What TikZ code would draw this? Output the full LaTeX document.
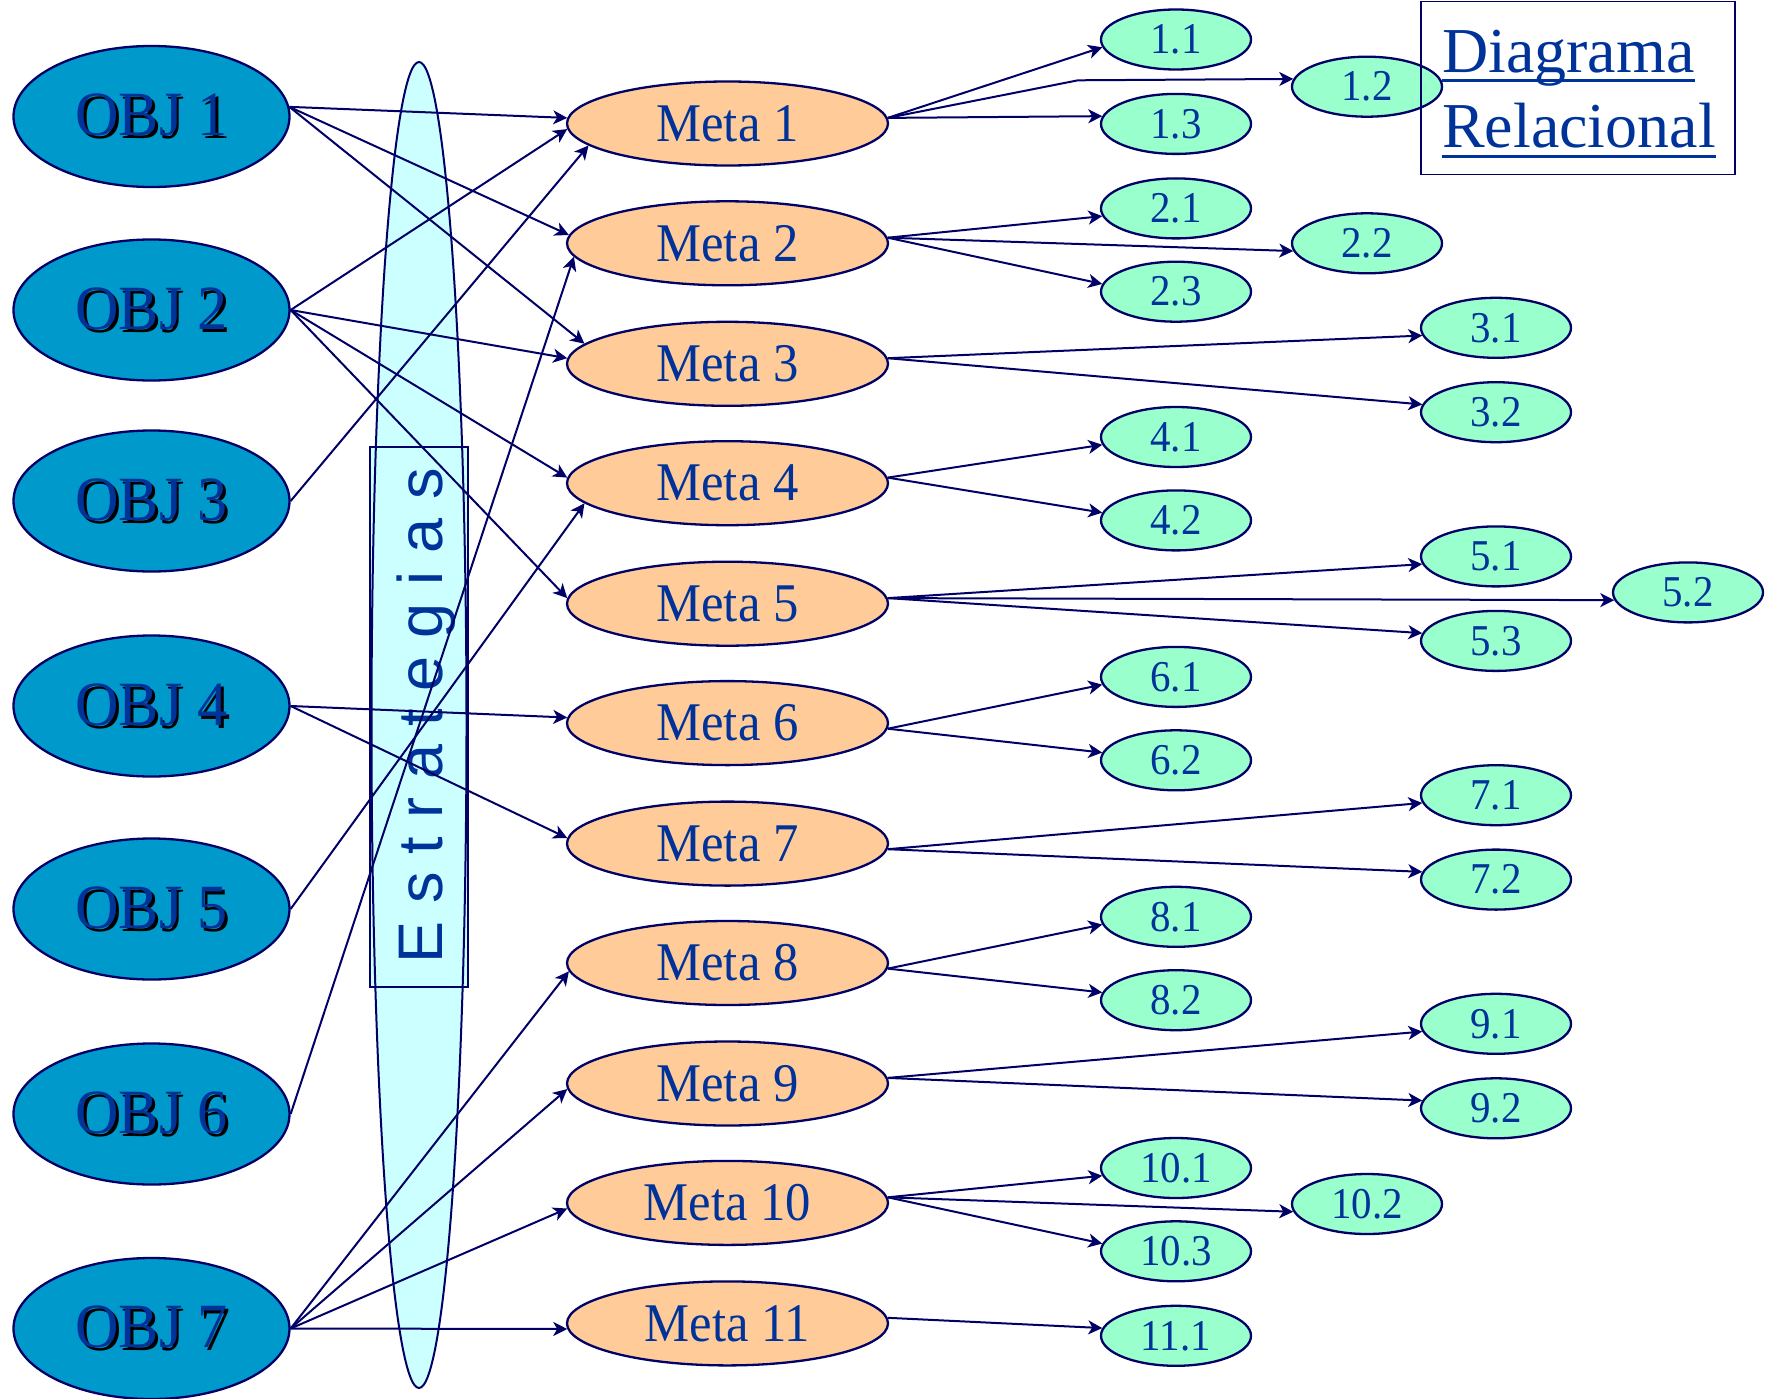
\documentclass[tikz,border=0pt]{standalone}
\usepackage{fontspec}
\usepackage{graphicx}
\setmainfont{Liberation Serif}
\newfontfamily\estfont{Liberation Sans}
\usetikzlibrary{shapes.geometric,arrows.meta}
\definecolor{navy}{HTML}{000066}
\definecolor{textblue}{HTML}{003399}
\definecolor{objfill}{HTML}{0099CC}
\definecolor{metafill}{HTML}{FFCC99}
\definecolor{subfill}{HTML}{99FFCC}
\definecolor{estfill}{HTML}{CCFFFF}
\newcommand\shtext[1]{\makebox[0pt][l]{\kern3pt\raisebox{-3pt}{\color{black}#1}}#1}
\newcommand\objlabel[1]{\scalebox{0.955}[1]{\shtext{#1}}}
\newcommand\metalabel[1]{\scalebox{0.93}[1]{#1}}
\newcommand\sublabel[1]{\scalebox{0.93}[1]{#1}}
\tikzset{
  objnode/.style={ellipse, draw=navy, line width=2.3pt, fill=objfill,
    minimum width=276pt, minimum height=141pt, inner sep=0pt,
    text=textblue, font=\fontsize{63}{63}\selectfont},
  metanode/.style={ellipse, draw=navy, line width=2.3pt, fill=metafill,
    minimum width=321pt, minimum height=84pt, inner sep=0pt,
    text=textblue, font=\fontsize{54.5}{54.5}\selectfont},
  subnode/.style={ellipse, draw=navy, line width=2.3pt, fill=subfill,
    minimum width=150pt, minimum height=60pt, inner sep=0pt,
    text=textblue, font=\fontsize{44}{44}\selectfont},
  link/.style={draw=navy, line width=2pt,
    -{Stealth[length=14pt,width=14pt,inset=4pt]}},
  titletext/.style={anchor=base west, inner sep=0pt, text=textblue,
    font=\fontsize{64}{64}\selectfont},
}
\begin{document}
\begin{tikzpicture}[x=1pt,y=-1pt]
\useasboundingbox (0,0) rectangle (1766,1399);
% Estrategias band
\fill[estfill] (370,447) rectangle (468,987);
\node[ellipse, draw=navy, line width=2pt, fill=estfill, minimum width=95pt,
  minimum height=1326pt, inner sep=0pt] (est) at (419,725) {};
\node[draw=navy, line width=1.3pt, minimum width=98pt, minimum height=540pt,
  inner sep=0pt] (estbox) at (419,717) {};
\node[rotate=90, anchor=base, inner sep=0pt, text=textblue,
  font=\estfont\fontsize{63}{63}\selectfont] (esttext) at (442,716)
  {E\kern18pt s\kern18pt t\kern18pt r\kern18pt a\kern18pt t\kern18pt e\kern18pt g\kern18pt i\kern18pt a\kern18pt s};

% objectives
\node[objnode] (o1) at (151.5,116.5) {\objlabel{OBJ 1}};
\node[objnode] (o2) at (151.5,310) {\objlabel{OBJ 2}};
\node[objnode] (o3) at (151.5,501) {\objlabel{OBJ 3}};
\node[objnode] (o4) at (151.5,706) {\objlabel{OBJ 4}};
\node[objnode] (o5) at (151.5,909) {\objlabel{OBJ 5}};
\node[objnode] (o6) at (151.5,1114) {\objlabel{OBJ 6}};
\node[objnode] (o7) at (151.5,1328.5) {\objlabel{OBJ 7}};

% metas
\node[metanode] (m1) at (727.5,123.5) {\metalabel{Meta 1}};
\node[metanode] (m2) at (727.5,243.3) {\metalabel{Meta 2}};
\node[metanode] (m3) at (727.5,363.8) {\metalabel{Meta 3}};
\node[metanode] (m4) at (727.5,483.2) {\metalabel{Meta 4}};
\node[metanode] (m5) at (727.5,603.7) {\metalabel{Meta 5}};
\node[metanode] (m6) at (727.5,723.1) {\metalabel{Meta 6}};
\node[metanode] (m7) at (727.5,843.6) {\metalabel{Meta 7}};
\node[metanode] (m8) at (727.5,963) {\metalabel{Meta 8}};
\node[metanode] (m9) at (727.5,1083.5) {\metalabel{Meta 9}};
\node[metanode] (m10) at (727.5,1202.9) {\metalabel{Meta 10}};
\node[metanode] (m11) at (727.5,1323.4) {\metalabel{Meta 11}};

% sub-goals
\node[subnode] (s11) at (1176,39.5) {\sublabel{1.1}};
\node[subnode] (s12) at (1367,86.7) {\sublabel{1.2}};
\node[subnode] (s13) at (1176,123.9) {\sublabel{1.3}};
\node[subnode] (s21) at (1176,208.4) {\sublabel{2.1}};
\node[subnode] (s22) at (1367,243.3) {\sublabel{2.2}};
\node[subnode] (s23) at (1176,291.7) {\sublabel{2.3}};
\node[subnode] (s31) at (1496,327.8) {\sublabel{3.1}};
\node[subnode] (s32) at (1496,412.2) {\sublabel{3.2}};
\node[subnode] (s41) at (1176,437) {\sublabel{4.1}};
\node[subnode] (s42) at (1176,520.4) {\sublabel{4.2}};
\node[subnode] (s51) at (1496,556.4) {\sublabel{5.1}};
\node[subnode] (s52) at (1688,592.4) {\sublabel{5.2}};
\node[subnode] (s53) at (1496,640.9) {\sublabel{5.3}};
\node[subnode] (s61) at (1176,676.9) {\sublabel{6.1}};
\node[subnode] (s62) at (1176,760.3) {\sublabel{6.2}};
\node[subnode] (s71) at (1496,795.2) {\sublabel{7.1}};
\node[subnode] (s72) at (1496,879.6) {\sublabel{7.2}};
\node[subnode] (s81) at (1176,916.8) {\sublabel{8.1}};
\node[subnode] (s82) at (1176,1000.2) {\sublabel{8.2}};
\node[subnode] (s91) at (1496,1023.8) {\sublabel{9.1}};
\node[subnode] (s92) at (1496,1108.3) {\sublabel{9.2}};
\node[subnode] (s101) at (1176,1168) {\sublabel{10.1}};
\node[subnode] (s102) at (1367,1204) {\sublabel{10.2}};
\node[subnode] (s103) at (1176,1251.3) {\sublabel{10.3}};
\node[subnode] (s111) at (1176,1335.8) {\sublabel{11.1}};

% objective -> meta links
\draw[link] (o1.4) -- (m1.178);
\draw[link] (o1.4) -- (m2.177);
\draw[link] (o1.4) -- (m3.172);
\draw[link] (o2.east) -- (m1.182);
\draw[link] (o2.east) -- (m3.178);
\draw[link] (o2.east) -- (m4.178);
\draw[link] (o2.east) -- (m5.178);
\draw[link] (o3.east) -- (m1.189);
\draw[link] (o4.east) -- (m6.178);
\draw[link] (o4.east) -- (m7.178);
\draw[link] (o5.east) -- (m4.188);
\draw[link] (o6.east) -- (m2.185);
\draw[link] (o7.east) -- (m8.183);
\draw[link] (o7.east) -- (m9.182);
\draw[link] (o7.east) -- (m10.182);
\draw[link] (o7.east) -- (m11.182);

% meta -> sub links
\coordinate (b12) at (1078,80.3);
\draw[link] (m1.2) -- (s11.186);
\draw[link] (m1.2) -- (b12) -- (s12.174);
\draw[link] (m1.2) -- (s13.174);
\draw[link] (m2.2) -- (s21.186);
\draw[link] (m2.2) -- (s22.186);
\draw[link] (m2.2) -- (s23.174);
\draw[link] (m3.2) -- (s31.186);
\draw[link] (m3.2) -- (s32.174);
\draw[link] (m4.2) -- (s41.186);
\draw[link] (m4.2) -- (s42.174);
\draw[link] (m5.2) -- (s51.186);
\draw[link] (m5.2) -- (s52.186);
\draw[link] (m5.2) -- (s53.174);
\draw[link] (m6.358) -- (s61.186);
\draw[link] (m6.358) -- (s62.174);
\draw[link] (m7.358) -- (s71.186);
\draw[link] (m7.358) -- (s72.174);
\draw[link] (m8.358) -- (s81.186);
\draw[link] (m8.358) -- (s82.174);
\draw[link] (m9.2) -- (s91.186);
\draw[link] (m9.2) -- (s92.174);
\draw[link] (m10.2) -- (s101.186);
\draw[link] (m10.2) -- (s102.186);
\draw[link] (m10.2) -- (s103.174);
\draw[link] (m11.2) -- (s111.174);

% title box
\node[draw=navy, line width=1.8pt, minimum width=314pt, minimum height=173pt,
  inner sep=0pt] (dbox) at (1578,88) {};
\node[titletext] (dg1) at (1442,72.7) {Diagrama};
\node[titletext] (dg2) at (1442,148) {Relacional};
\fill[textblue] ([yshift=-6.3pt]dg1.base west) rectangle ([yshift=-9.8pt]dg1.base east);
\fill[textblue] ([yshift=-7pt]dg2.base west) rectangle ([yshift=-10.5pt]dg2.base east);
\end{tikzpicture}
\end{document}
